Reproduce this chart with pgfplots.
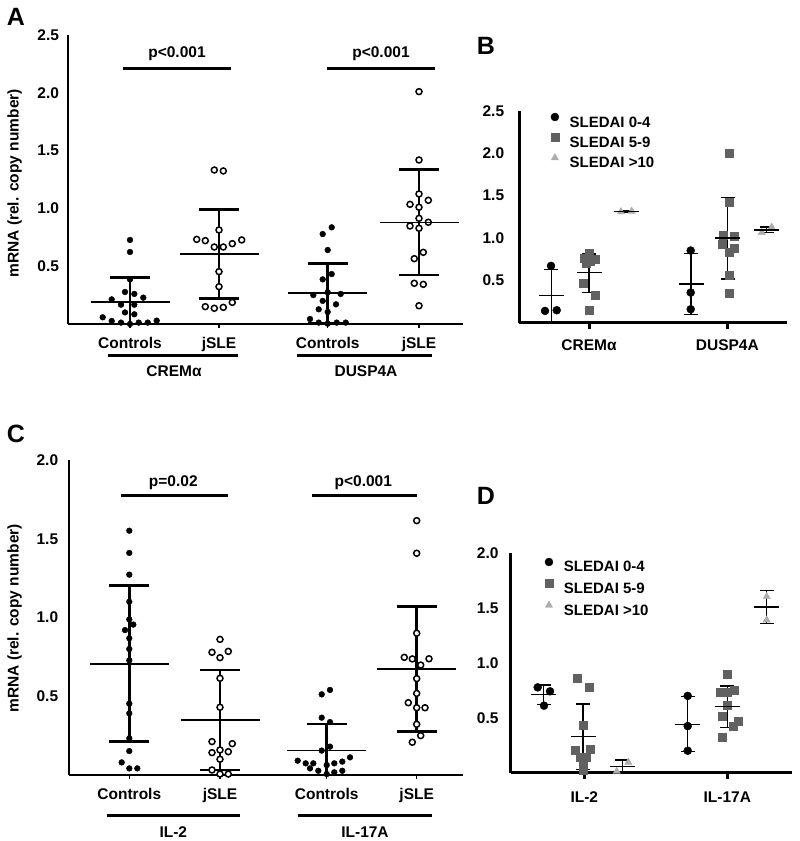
\documentclass[border=0pt]{standalone}
\usepackage{fontspec}
\setmainfont{Liberation Sans}
\usepackage{pgfplots}
\pgfplotsset{compat=1.18}
\definecolor{sqgray}{gray}{0.38}
\definecolor{trigray}{gray}{0.68}

% x data are horizontal positions in the figure, y data are mRNA values
\pgfplotsset{
  panel/.style={
    scale only axis, anchor=south west,
    axis lines=left, axis line style={-, line width=2pt},
    ymin=0, enlargelimits=false,
    tick align=outside,
    ytick style={draw=none},
    xtick style={black, line width=1.5pt},
    major tick length=4pt,
    ticklabel style={font=\fontsize{15.5}{17}\selectfont\bfseries},
    /pgf/number format/assume math mode=true,
    yticklabel style={/pgf/number format/fixed, /pgf/number format/fixed zerofill,
      /pgf/number format/precision=1},
    xticklabel style={anchor=base},
  },
  ctrl/.style={only marks, mark=*, mark size=2.9pt, black},
  jsle/.style={only marks, mark=*, mark size=3pt, mark options={draw=black, fill=white, line width=1.5pt}},
  bigsd/.style={only marks, black, mark=-, mark size=39.5pt, mark options={line width=1.8pt},
    error bars/.cd, y dir=both, y explicit, error bar style={line width=2.8pt},
    error mark options={rotate=90, mark size=20pt, line width=2.8pt}},
  smallsd/.style={only marks, black, mark=-, mark size=12.5pt, mark options={line width=1.2pt},
    error bars/.cd, y dir=both, y explicit, error bar style={line width=1.2pt},
    error mark options={rotate=90, mark size=7pt, line width=1.2pt}},
  sledai/.style={
    legend cell align=left,
    legend image code/.code={\draw[mark repeat=2,mark phase=2,##1] plot coordinates {(0pt,6pt) (5pt,6pt) (10pt,6pt)};},
  },
}
\newcommand{\bfs}[1]{\fontsize{#1}{#1}\selectfont\bfseries}

\begin{document}
\begin{tikzpicture}[x=1pt,y=1pt]
\path[use as bounding box] (0,0) rectangle (800,841);

% ---------------- A ----------------
\begin{axis}[panel, at={(68pt,517pt)}, width=395pt, height=289pt,
  xmin=68, xmax=463, ymax=2.5, ytick={0.5,1,1.5,2,2.5},
  xtick={130,219,327.7,419}, xticklabels={Controls,jSLE,Controls,jSLE},
  xticklabel style={yshift=-20.5pt}, yticklabel style={xshift=-1.5pt}]
\addplot[ctrl] coordinates {
  (130,0.727) (130,0.623) (130,0.386) (125,0.277) (134.3,0.26) (111.7,0.213)
  (143.3,0.228) (121,0.167) (134.3,0.167) (125,0.10) (134.3,0.084) (102.7,0.058)
  (111.7,0.026) (121,0.012) (130,0.0) (138.7,0.012) (147.7,0.012) (156.7,0.029)
  (331.7,0.836) (322.7,0.778) (327.7,0.64) (331.7,0.432) (322.7,0.386) (313.3,0.25)
  (327.7,0.274) (340.7,0.26) (322.7,0.20) (336,0.17) (318.7,0.127) (327.7,0.104)
  (310,0.043) (318.7,0.012) (327.7,0.003) (336.7,0.012) (345.7,0.012)};
\addplot[jsle] coordinates {
  (214.3,1.332) (223.3,1.324) (219,0.813) (196.7,0.732) (205.3,0.721) (214.3,0.666)
  (223.3,0.666) (232.3,0.695) (241.7,0.727) (219,0.453) (219,0.323) (205.3,0.15)
  (214.3,0.136) (223.3,0.144) (232.3,0.187)
  (419,2.01) (419,1.419) (419,1.125) (410,1.035) (428.3,1.07) (419,1.01)
  (419,0.914) (410,0.848) (428.3,0.88) (419,0.828) (423.3,0.62) (414.3,0.565)
  (414.3,0.352) (423.3,0.343) (419,0.158)};
\addplot[bigsd] coordinates {
  (130,0.188) += (0,0.212) -= (0,0.188)
  (219,0.603) += (0,0.385) -= (0,0.385)
  (327.7,0.265) += (0,0.26) -= (0,0.26)
  (419,0.878) += (0,0.455) -= (0,0.455)};
\end{axis}

% ---------------- B ----------------
\begin{axis}[panel, sledai, at={(519pt,518.4pt)}, width=268pt, height=211.6pt,
  axis line style={line width=3pt}, xtick style={line width=3pt}, major tick length=6pt,
  xmin=519, xmax=787, ymax=2.5, ytick={0.5,1,1.5,2,2.5},
  xtick={589,727.3}, xticklabels={CREMα,DUSP4A},
  xticklabel style={yshift=-21.7pt}, yticklabel style={xshift=-5.3pt},
  legend style={draw=none, fill=none, at={(0.119,0.9905)}, anchor=north west,
    inner sep=0pt, outer sep=0pt, font=\bfs{15}, row sep=2.3pt,
    nodes={inner sep=1pt, text height=11pt, text depth=3pt},
    /tikz/every odd column/.append style={column sep=9.7pt}}]
\addplot[only marks, mark=*, mark size=4pt, black] coordinates {
  (545,0.138) (556.7,0.146) (551,0.67) (690.7,0.851) (690.7,0.355) (690.7,0.158)};
\addlegendentry{SLEDAI 0-4}
\addplot[only marks, mark=square*, mark size=4pt, sqgray] coordinates {
  (589.3,0.819) (584,0.76) (595,0.75) (590,0.72) (586,0.70) (583.3,0.464)
  (595,0.326) (589.3,0.149)
  (729,2.0) (729,1.42) (723.3,1.036) (734.3,1.017) (721.7,0.93) (734.3,0.88)
  (729,0.83) (729,0.56) (729,0.347)};
\addlegendentry{SLEDAI 5-9}
\addplot[only marks, mark=triangle*, mark size=4.2pt, trigray] coordinates {
  (621,1.31) (631.7,1.316) (761.7,1.064) (771.7,1.127)};
\addlegendentry{SLEDAI >10}
\addplot[forget plot, smallsd] coordinates {
  (551.3,0.318) += (0,0.305) -= (0,0.305)
  (589,0.59) += (0,0.22) -= (0,0.23)
  (626.3,1.315) += (0,0.01) -= (0,0.01)
  (691,0.455) += (0,0.357) -= (0,0.357)
  (727.5,1.0) += (0,0.48) -= (0,0.484)
  (766.7,1.095) += (0,0.035) -= (0,0.035)};
\end{axis}

% ---------------- C ----------------
\begin{axis}[panel, at={(69pt,66pt)}, width=394pt, height=315pt,
  xmin=69, xmax=463, ymax=2.0, ytick={0.5,1,1.5,2},
  xtick={129.3,220,326.7,416.7}, xticklabels={Controls,jSLE,Controls,jSLE},
  xticklabel style={yshift=-20.5pt}, yticklabel style={xshift=-3.3pt}]
\addplot[ctrl] coordinates {
  (129.3,1.551) (129.3,1.41) (129.3,1.272) (129.3,1.10) (129.3,0.988) (125,0.92)
  (133.3,0.955) (129.3,0.868) (129.3,0.80) (129.3,0.728) (129.3,0.453) (129.3,0.392)
  (129.3,0.233) (129.3,0.152) (121.7,0.08) (129.3,0.042) (137.3,0.042)
  (330,0.54) (321.7,0.512) (321.7,0.364) (330,0.336) (330,0.18) (321.7,0.155)
  (297.7,0.091) (305.7,0.074) (313.3,0.074) (326.7,0.063) (334.3,0.074) (342.3,0.085)
  (350,0.112) (310,0.042) (318.3,0.027) (326.7,0.006) (334.3,0.017) (342.3,0.027)};
\addplot[jsle] coordinates {
  (220,0.861) (212,0.779) (228.3,0.785) (220,0.745) (220,0.614) (220,0.43)
  (212,0.212) (232.3,0.199) (212,0.142) (220,0.159) (228.3,0.148) (220,0.10)
  (212,0.032) (220,0.006) (228.3,0.006)
  (416.7,1.615) (416.7,1.408) (416.7,0.90) (404.3,0.747) (412.3,0.737) (420.7,0.698)
  (429,0.738) (416.7,0.612) (416.7,0.518) (408.3,0.459) (416.7,0.427) (425,0.427)
  (416.7,0.322) (420.7,0.25) (412.3,0.208)};
\addplot[bigsd] coordinates {
  (129.3,0.707) += (0,0.494) -= (0,0.495)
  (220,0.349) += (0,0.318) -= (0,0.317)
  (326.7,0.155) += (0,0.169) -= (0,0.155)
  (416.7,0.671) += (0,0.4) -= (0,0.396)};
\end{axis}

% ---------------- D ----------------
\begin{axis}[panel, sledai, at={(510.7pt,68.3pt)}, width=281pt, height=219.4pt,
  axis line style={line width=3pt}, xtick style={line width=3pt}, major tick length=6pt,
  xmin=510.7, xmax=791.7, ymax=2.0, ytick={0.5,1,1.5,2},
  xtick={584.3,727.3}, xticklabels={IL-2,IL-17A},
  xticklabel style={yshift=-23.5pt}, yticklabel style={xshift=-2.7pt},
  legend style={draw=none, fill=none, at={(0.122,0.9786)}, anchor=north west,
    inner sep=0pt, outer sep=0pt, font=\bfs{15}, row sep=3.5pt,
    nodes={inner sep=1pt, text height=11pt, text depth=3pt},
    /tikz/every odd column/.append style={column sep=10pt}}]
\addplot[only marks, mark=*, mark size=4pt, black] coordinates {
  (537.7,0.778) (550,0.742) (544,0.611) (687.7,0.70) (687.7,0.425) (687.7,0.20)};
\addlegendentry{SLEDAI 0-4}
\addplot[only marks, mark=square*, mark size=4pt, sqgray] coordinates {
  (577.3,0.86) (589.3,0.778) (582.7,0.43) (575,0.207) (590,0.213) (580,0.14)
  (586,0.14) (582.7,0.09) (582.7,0.025)
  (727.3,0.90) (720,0.738) (727.3,0.738) (734,0.748) (727.3,0.617) (721.7,0.517)
  (738.3,0.465) (732.7,0.426) (721.7,0.328)};
\addlegendentry{SLEDAI 5-9}
\addplot[only marks, mark=triangle*, mark size=4.2pt, trigray] coordinates {
  (616.7,0.012) (628.3,0.095) (766.7,1.605) (766.7,1.392)};
\addlegendentry{SLEDAI >10}
\addplot[forget plot, smallsd] coordinates {
  (543.7,0.711) += (0,0.088) -= (0,0.088)
  (583,0.328) += (0,0.298) -= (0,0.298)
  (622.3,0.054) += (0,0.062) -= (0,0.054)
  (687.7,0.442) += (0,0.25) -= (0,0.25)
  (727.3,0.605) += (0,0.185) -= (0,0.195)
  (766.7,1.51) += (0,0.148) -= (0,0.148)};
\end{axis}

% ---------------- annotations ----------------
\begin{scope}[line width=3pt]
\draw (123,772) -- (231,772);  \draw (327,772) -- (435,772);
\draw (108,485) -- (238,485);  \draw (297,485) -- (432,485);
\draw (120.7,345) -- (228.3,345); \draw (311.7,345) -- (416.7,345);
\draw (106.7,25.3) -- (240,25.3); \draw (297.7,25.3) -- (431.7,25.3);
\end{scope}
\node[font=\bfs{15.5}] at (177,787) {p<0.001};
\node[font=\bfs{15.5}] at (381,787) {p<0.001};
\node[font=\bfs{15.5}] at (173.3,358.5) {p=0.02};
\node[font=\bfs{15.5}] at (363.3,358.5) {p<0.001};
\node[font=\bfs{15.5}] at (174,470) {CREMα};
\node[font=\bfs{15.5}] at (366,470) {DUSP4A};
\node[font=\bfs{15.5}] at (173.3,9.3) {IL-2};
\node[font=\bfs{15.5}] at (365,9.3) {IL-17A};
\node[font=\bfs{15.5}, rotate=90] at (14.5,657.7) {mRNA (rel. copy number)};
\node[font=\bfs{15.5}, rotate=90] at (14.5,222.7) {mRNA (rel. copy number)};
\node[font=\bfs{25}] at (16,824) {A};
\node[font=\bfs{25}] at (486,795) {B};
\node[font=\bfs{25}] at (16,407) {C};
\node[font=\bfs{25}] at (486,345) {D};
\end{tikzpicture}
\end{document}
